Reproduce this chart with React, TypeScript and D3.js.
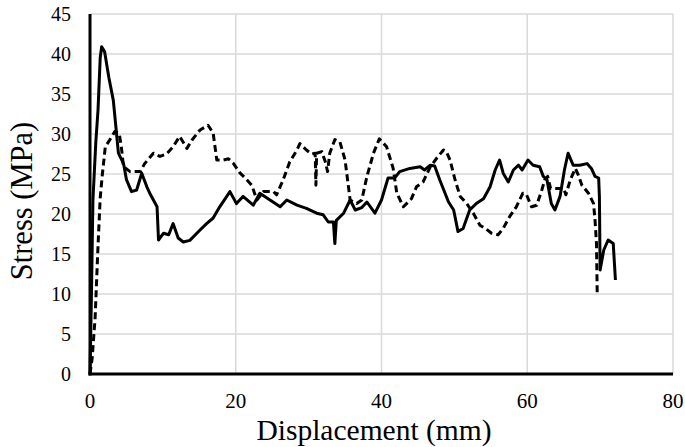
import React from "react";
import * as d3 from "d3";

// solid curve: displacement (mm) / stress (MPa)
const solidDisp = [0, 0.2, 0.4, 0.8, 1.1, 1.4, 1.6, 2.0, 2.6, 3.2, 3.9, 4.6, 5.0, 5.7, 6.4, 7.1, 7.8, 8.2, 9.2, 9.4, 10.1, 10.8, 11.4, 12.1, 12.8, 13.7, 15.1, 16.0, 16.9, 17.8, 19.2, 20.1, 21.0, 22.4, 23.3, 24.7, 26.1, 27.0, 28.4, 29.7, 31.1, 32.0, 32.7, 33.4, 33.6, 33.8, 34.8, 35.7, 36.4, 37.3, 38.0, 39.1, 40.0, 40.9, 41.8, 42.5, 43.9, 45.3, 45.9, 46.7, 47.3, 48.0, 49.2, 49.9, 50.5, 51.2, 52.1, 53.0, 54.0, 54.9, 55.6, 56.2, 56.7, 57.4, 58.1, 58.8, 59.3, 60.1, 60.8, 61.7, 62.2, 62.7, 63.3, 63.8, 64.5, 65.1, 65.6, 66.3, 67.2, 68.2, 68.8, 69.3, 69.8, 69.9, 70.0, 70.5, 71.1, 71.8, 72.1];
const solidStress = [0, 10, 21.7, 29, 33, 39.5, 40.9, 40.3, 37, 34.2, 27.6, 26.3, 24.3, 22.8, 23, 25.1, 23.4, 22.6, 20.9, 16.75, 17.6, 17.4, 18.8, 17, 16.5, 16.7, 18, 18.8, 19.5, 20.9, 22.8, 21.3, 22.2, 21.1, 22.6, 21.75, 20.9, 21.75, 21.1, 20.7, 20.1, 19.9, 19, 19, 16.3, 19.2, 20.1, 21.75, 20.5, 20.8, 21.5, 20.1, 21.75, 24.5, 24.5, 25.3, 25.7, 25.9, 25.5, 26.1, 26, 24.25, 21.5, 20.5, 17.8, 18.2, 20.5, 21.3, 21.9, 23.4, 25.5, 26.75, 25.1, 24, 25.5, 26.1, 25.5, 26.75, 26.1, 25.9, 24.7, 24.3, 21.3, 20.5, 22.2, 25.5, 27.6, 26.1, 26.1, 26.3, 25.7, 24.7, 24.5, 22.2, 13, 15.5, 16.75, 16.3, 11.75];

// dashed curve
const dashedDisp = [0, 0.3, 0.7, 1.1, 1.4, 1.7, 2.1, 2.7, 3.4, 4.0, 4.3, 4.6, 5.5, 6.9, 7.5, 8.7, 9.6, 10.5, 11.4, 12.3, 13.3, 14.0, 15.1, 16.2, 16.9, 17.4, 18.3, 19.0, 19.7, 20.6, 21.3, 22.2, 22.9, 23.8, 25.2, 25.6, 26.5, 27.4, 28.4, 28.8, 29.7, 30.4, 30.9, 31.0, 31.1, 31.8, 32.3, 32.6, 32.9, 33.6, 34.3, 35.0, 35.7, 36.6, 37.3, 38.0, 38.9, 39.7, 40.7, 41.6, 42.1, 43.0, 44.1, 44.8, 45.7, 46.7, 47.6, 48.5, 48.9, 49.4, 50.1, 50.8, 51.7, 52.6, 53.5, 54.4, 55.1, 56.0, 56.7, 57.6, 58.5, 59.4, 59.9, 60.6, 61.3, 62.0, 62.4, 62.8, 63.2, 63.8, 65.0, 65.3, 65.9, 66.6, 67.0, 67.5, 68.4, 69.1, 69.3, 69.5, 69.6];
const dashedStress = [0, 2, 7, 16, 22, 25, 28.4, 29.25, 30.3, 30.1, 28.4, 25.9, 25.3, 25.3, 26.3, 27.6, 27.2, 27.5, 28.4, 29.7, 28.2, 29.25, 30.5, 31.1, 30.1, 26.75, 26.75, 26.9, 26.3, 25.1, 24.5, 23.6, 21.75, 22.8, 22.8, 22.4, 24.25, 26.5, 28, 28.8, 28, 27.5, 27.6, 23.6, 27.6, 27.8, 26.5, 25.3, 27.6, 29.3, 29, 26.75, 21.75, 21.3, 21.75, 24.7, 27.6, 29.4, 28.4, 25.7, 22.6, 20.9, 21.9, 23.4, 24, 25.9, 27, 28, 27.8, 26.75, 24.25, 22.2, 21.3, 20.1, 18.6, 18.1, 17.6, 17.4, 18.2, 19.7, 20.9, 22.6, 22.4, 20.9, 21.1, 23, 24.25, 24.7, 23.2, 23.2, 23.2, 22.4, 24.25, 25.7, 24.9, 23.6, 22.6, 21.3, 19.25, 16.3, 10.1];

const xTicks = [0, 20, 40, 60, 80];
const yTicks = [0, 5, 10, 15, 20, 25, 30, 35, 40, 45];

const W = 685;
const H = 447;
const margin = { left: 90, right: 12, top: 14, bottom: 73 };
const font = "'Liberation Serif', 'Times New Roman', serif";

export default function App() {
  const x = d3.scaleLinear().domain([0, 80]).range([margin.left, W - margin.right]);
  const y = d3.scaleLinear().domain([0, 45]).range([H - margin.bottom, margin.top]);

  const makePath = (xs: number[], ys: number[]) =>
    d3
      .line<[number, number]>()
      .x(d => x(d[0]))
      .y(d => y(d[1]))(xs.map((v, i) => [v, ys[i]] as [number, number])) || "";

  return (
    <svg
      width={W}
      height={H}
      style={{ position: "absolute", left: 0, top: 0, background: "white" }}
      fontFamily={font}
    >
      {/* grid */}
      {yTicks.slice(1).map(t => (
        <line key={"gy" + t} x1={x(0)} x2={x(80)} y1={y(t)} y2={y(t)} stroke="#d9d9d9" strokeWidth={1.5} />
      ))}
      {xTicks.slice(1).map(t => (
        <line key={"gx" + t} x1={x(t)} x2={x(t)} y1={y(0)} y2={y(45)} stroke="#d9d9d9" strokeWidth={1.5} />
      ))}

      {/* curves */}
      <path d={makePath(dashedDisp, dashedStress)} fill="none" stroke="black" strokeWidth={3} strokeDasharray="7,4" strokeLinejoin="round" />
      <path d={makePath(solidDisp, solidStress)} fill="none" stroke="black" strokeWidth={3} strokeLinejoin="round" />

      {/* axes */}
      <line x1={x(0)} x2={x(0)} y1={y(0) + 1.5} y2={y(45)} stroke="black" strokeWidth={3} />
      <line x1={x(0) - 1.5} x2={x(80)} y1={y(0)} y2={y(0)} stroke="black" strokeWidth={3} />

      {/* tick labels */}
      {yTicks.map(t => (
        <text key={"ty" + t} x={71} y={y(t)} dy="0.35em" textAnchor="end" fontSize={20}>
          {t}
        </text>
      ))}
      {xTicks.map(t => (
        <text key={"tx" + t} x={x(t)} y={408} textAnchor="middle" fontSize={21}>
          {t}
        </text>
      ))}

      {/* axis titles */}
      <text x={374} y={440} textAnchor="middle" fontSize={29.5}>
        Displacement (mm)
      </text>
      <text transform="translate(32,201) rotate(-90)" textAnchor="middle" fontSize={30.5}>
        Stress (MPa)
      </text>
    </svg>
  );
}
